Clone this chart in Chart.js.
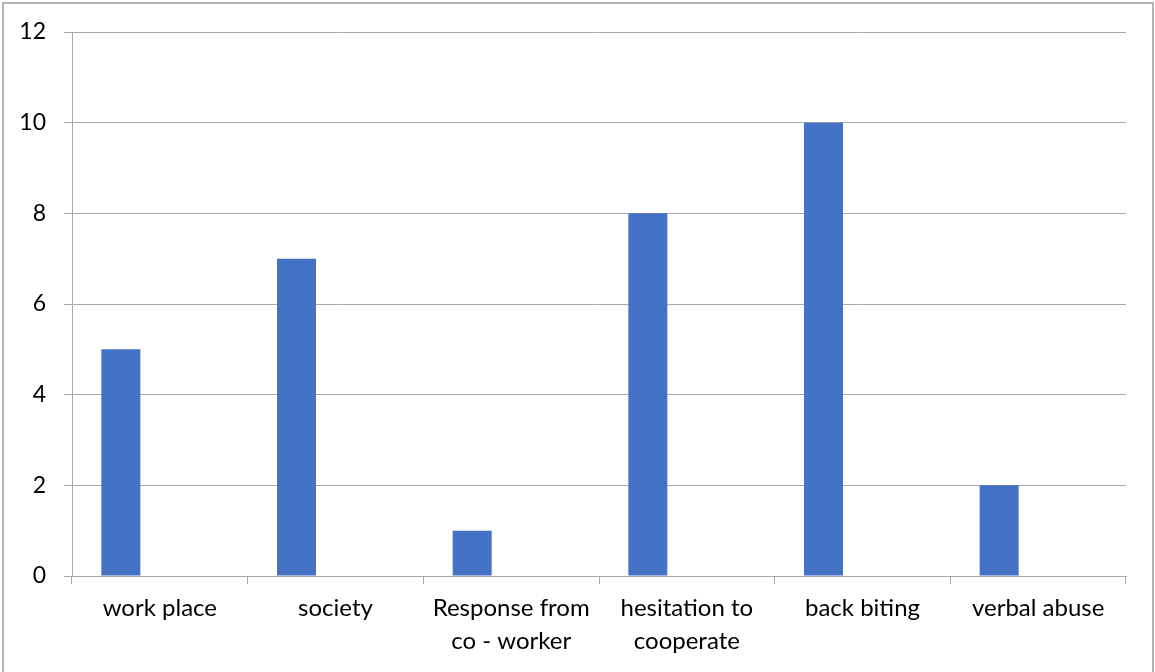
<!DOCTYPE html>
<html>
<head>
<meta charset="utf-8">
<script src="https://cdn.jsdelivr.net/npm/chart.js@4/dist/chart.umd.min.js"></script>
<style>
  html, body { margin: 0; padding: 0; background: #ffffff; }
  #wrap { position: relative; width: 1155px; height: 672px; }
</style>
</head>
<body>
<div id="wrap"><canvas id="chart" width="1155" height="672"></canvas></div>
<script>
// Reported problem categories (multi-line labels where the text wraps)
const categories = [
  'work place',
  'society',
  ['Response from', 'co - worker'],
  ['hesitation to', 'cooperate'],
  'back biting',
  'verbal abuse'
];
// Number of responses per category
const responses = [5, 7, 1, 8, 10, 2];
// Two unused series slots that keep the bars in the left third of each group
const emptySeriesA = [null, null, null, null, null, null];
const emptySeriesB = [null, null, null, null, null, null];
// Value axis
const yMin = 0;
const yMax = 12;
const yStep = 2;

const FONT = 'Lato, "Open Sans", sans-serif';
const GRID = '#a9a9a9';

// Light frame along the left, top and right edges of the chart
const framePlugin = {
  id: 'frame',
  beforeDraw(chart) {
    const ctx = chart.ctx;
    ctx.save();
    ctx.strokeStyle = '#b3b3b3';
    ctx.lineWidth = 2;
    ctx.beginPath();
    ctx.moveTo(3, 700);
    ctx.lineTo(3, 3);
    ctx.lineTo(1153, 3);
    ctx.lineTo(1153, 700);
    ctx.stroke();
    ctx.restore();
  }
};

new Chart(document.getElementById('chart'), {
  type: 'bar',
  data: {
    labels: categories,
    datasets: [
      { label: 'Responses', data: responses, backgroundColor: '#4472c4', borderWidth: 0 },
      { label: '', data: emptySeriesA, backgroundColor: '#ed7d31' },
      { label: '', data: emptySeriesB, backgroundColor: '#a5a5a5' }
    ]
  },
  options: {
    responsive: false,
    animation: false,
    devicePixelRatio: 1,
    layout: { padding: { left: 0, top: 32, right: 29, bottom: 0 } },
    datasets: { bar: { categoryPercentage: 0.666, barPercentage: 1.0 } },
    plugins: {
      legend: { display: false },
      tooltip: { enabled: false }
    },
    scales: {
      x: {
        grid: {
          offset: true,
          drawOnChartArea: false,
          drawTicks: true,
          tickLength: 8,
          color: GRID,
          lineWidth: 1
        },
        border: { display: true, color: GRID, width: 1 },
        ticks: {
          color: '#000000',
          padding: 7,
          maxRotation: 0,
          autoSkip: false,
          font: { family: FONT, size: 24, lineHeight: 1.4 }
        },
        afterFit(scale) { scale.height = 96; }
      },
      y: {
        min: yMin,
        max: yMax,
        ticks: {
          stepSize: yStep,
          color: '#000000',
          padding: 18,
          font: { family: FONT, size: 23 }
        },
        grid: {
          color: GRID,
          lineWidth: 1,
          drawTicks: true,
          tickLength: 8
        },
        border: { display: true, color: GRID, width: 1 },
        afterFit(scale) { scale.width = 72; }
      }
    }
  },
  plugins: [framePlugin]
});
</script>
</body>
</html>
